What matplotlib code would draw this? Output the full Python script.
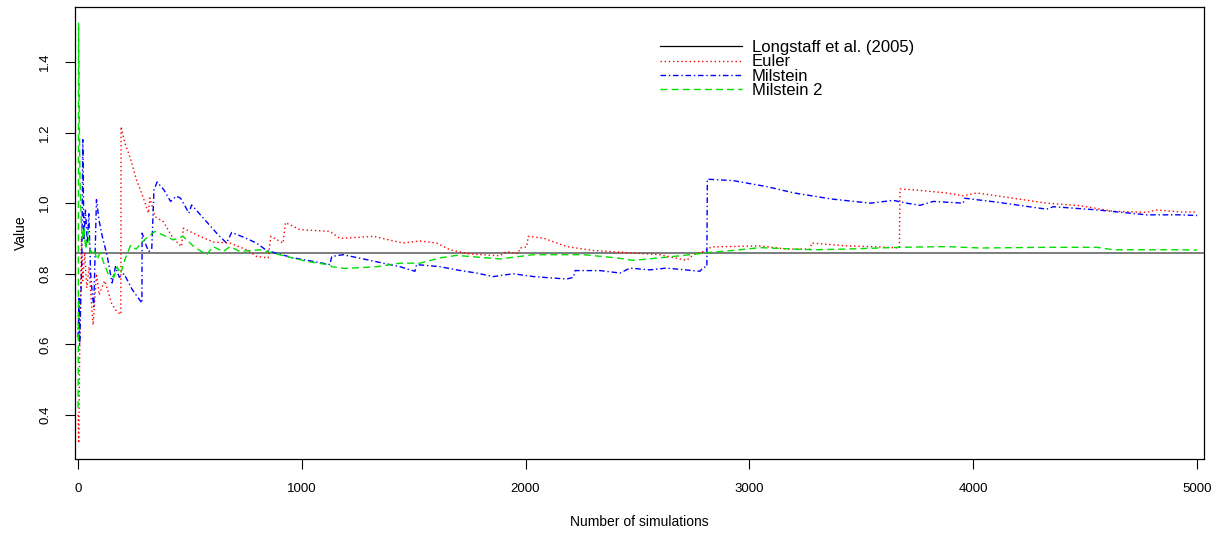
import matplotlib.pyplot as plt
from matplotlib.lines import Line2D

plt.rcParams['font.family'] = ['Liberation Sans', 'DejaVu Sans']

# valor de referencia
longstaff = 0.86

# Euler
euler_x = [1, 4, 9, 16, 22, 30, 40, 50, 60, 68, 83, 95, 106, 120, 135, 150, 165, 180, 192,
           193, 210, 232, 262, 290, 315, 322, 344, 381, 426, 463, 471, 545, 605, 679, 754,
           798, 850, 862, 917, 927, 992, 1126, 1171, 1320, 1453, 1528, 1603, 1662, 1751,
           1886, 1915, 1967, 1975, 2005, 2012, 2079, 2184, 2303, 2452, 2600, 2720, 2750,
           2794, 2831, 3047, 3166, 3271, 3278, 3435, 3584, 3670, 3673, 3732, 3881, 3955,
           4016, 4180, 4328, 4477, 4625, 4775, 4820, 4924, 5000]
euler_y = [0.40, 0.32, 0.63, 0.90, 0.78, 0.86, 0.76, 0.82, 0.72, 0.655, 0.80, 0.74, 0.76, 0.78,
           0.75, 0.717, 0.70, 0.69, 0.685, 1.217, 1.17, 1.132, 1.066, 1.02, 0.972, 1.015,
           0.962, 0.948, 0.90, 0.877, 0.929, 0.906, 0.89, 0.887, 0.868, 0.849, 0.845, 0.906,
           0.887, 0.945, 0.925, 0.92, 0.90, 0.906, 0.887, 0.893, 0.887, 0.868, 0.856, 0.851,
           0.863, 0.857, 0.873, 0.876, 0.906, 0.901, 0.877, 0.866, 0.86, 0.854, 0.838, 0.854,
           0.863, 0.876, 0.879, 0.870, 0.870, 0.887, 0.879, 0.876, 0.873, 1.040, 1.038,
           1.029, 1.021, 1.029, 1.014, 1.0, 0.993, 0.977, 0.974, 0.981, 0.975, 0.975]

# Milstein
milstein_x = [1, 5, 8, 12, 18, 22, 27, 34, 42, 49, 57, 64, 71, 83, 95, 109, 131, 153, 168,
              185, 206, 243, 286, 287, 305, 317, 330, 340, 354, 384, 414, 440, 459, 496, 508,
              560, 620, 664, 687, 739, 798, 843, 962, 1052, 1126, 1134, 1185, 1290, 1364,
              1439, 1506, 1513, 1618, 1692, 1781, 1856, 1945, 2035, 2184, 2214, 2221, 2333,
              2422, 2466, 2556, 2630, 2779, 2794, 2810, 2812, 2927, 3077, 3200, 3365, 3540,
              3643, 3703, 3762, 3822, 3955, 3962, 4105, 4328, 4358, 4552, 4775, 4924, 5000]
milstein_y = [0.62, 0.73, 0.60, 0.70, 0.85, 1.18, 0.90, 0.98, 0.887, 0.97, 0.80, 0.745, 0.707,
              1.01, 0.95, 0.906, 0.85, 0.774, 0.82, 0.79, 0.80, 0.755, 0.717, 0.915, 0.88,
              0.863, 0.87, 1.038, 1.06, 1.038, 1.005, 1.02, 1.014, 0.972, 0.995, 0.958, 0.915,
              0.887, 0.917, 0.904, 0.887, 0.866, 0.845, 0.835, 0.826, 0.849, 0.854, 0.84,
              0.83, 0.82, 0.807, 0.826, 0.82, 0.811, 0.802, 0.792, 0.80, 0.792, 0.785, 0.79,
              0.809, 0.809, 0.802, 0.816, 0.811, 0.816, 0.807, 0.818, 0.82, 1.068, 1.064,
              1.047, 1.029, 1.012, 1.0, 1.008, 1.0, 0.994, 1.005, 1.0, 1.014, 1.003, 0.983,
              0.99, 0.981, 0.967, 0.967, 0.965]

# Milstein 2
milstein2_x = [1, 2, 3, 6, 10, 15, 20, 27, 35, 45, 55, 72, 85, 100, 116, 135, 161, 175, 191,
               210, 235, 260, 295, 344, 380, 426, 470, 518, 575, 604, 649, 679, 724, 813, 932,
               992, 1022, 1126, 1134, 1193, 1335, 1439, 1528, 1618, 1692, 1886, 2035, 2259,
               2407, 2481, 2630, 2735, 2816, 2927, 3047, 3285, 3435, 3673, 3881, 4030, 4328,
               4552, 4625, 4924, 5000]
milstein2_y = [0.42, 0.6, 1.51, 1.25, 1.05, 0.95, 0.90, 0.93, 0.87, 0.92, 0.86, 0.87, 0.84,
               0.86, 0.83, 0.80, 0.79, 0.82, 0.80, 0.84, 0.88, 0.87, 0.895, 0.92, 0.91, 0.896,
               0.906, 0.877, 0.854, 0.877, 0.863, 0.877, 0.863, 0.868, 0.849, 0.84, 0.835,
               0.825, 0.82, 0.815, 0.82, 0.83, 0.83, 0.845, 0.852, 0.842, 0.854, 0.854, 0.845,
               0.838, 0.847, 0.854, 0.86, 0.866, 0.874, 0.868, 0.87, 0.875, 0.877, 0.873,
               0.875, 0.875, 0.868, 0.868, 0.867]

etiquetas = ['Longstaff et al. (2005)', 'Euler', 'Milstein', 'Milstein 2']

fig = plt.figure(figsize=(12.19, 5.33), dpi=100)
ax = fig.add_axes([0.0615, 0.1388, 0.9262, 0.8481])

ax.axhline(longstaff, color='0.4', lw=1.2)
ax.plot(euler_x, euler_y, color='red', lw=1.0, dashes=(1, 2))
ax.plot(milstein_x, milstein_y, color='blue', lw=1.0, dashes=(4, 2, 1, 2))
ax.plot(milstein2_x, milstein2_y, color='#00e000', lw=1.0, dashes=(5, 3))

ax.set_xlim(-13, 5031)
ax.set_ylim(0.275, 1.556)
ax.set_xticks([0, 1000, 2000, 3000, 4000, 5000])
ax.set_yticks([0.4, 0.6, 0.8, 1.0, 1.2, 1.4])
ax.set_yticklabels(['0.4', '0.6', '0.8', '1.0', '1.2', '1.4'], rotation=90, va='center')
ax.tick_params(direction='out', length=7, width=0.8, labelsize=9.5, pad=10)
for s in ax.spines.values():
    s.set_linewidth(0.9)

ax.set_xlabel('Number of simulations', fontsize=10, labelpad=15)
ax.set_ylabel('Value', fontsize=10, labelpad=8)

handles = [Line2D([], [], color='black', lw=0.9),
           Line2D([], [], color='red', lw=1.0, dashes=(1, 2)),
           Line2D([], [], color='blue', lw=1.0, dashes=(4, 2, 1, 2)),
           Line2D([], [], color='#00e000', lw=1.0, dashes=(5, 3))]
ax.legend(handles, etiquetas, loc='upper left', bbox_to_anchor=(0.511, 0.945),
          frameon=False, fontsize=12, handlelength=4.9, handletextpad=0.6,
          labelspacing=-0.05, borderpad=0)

fig.savefig('out.png', dpi=100)
